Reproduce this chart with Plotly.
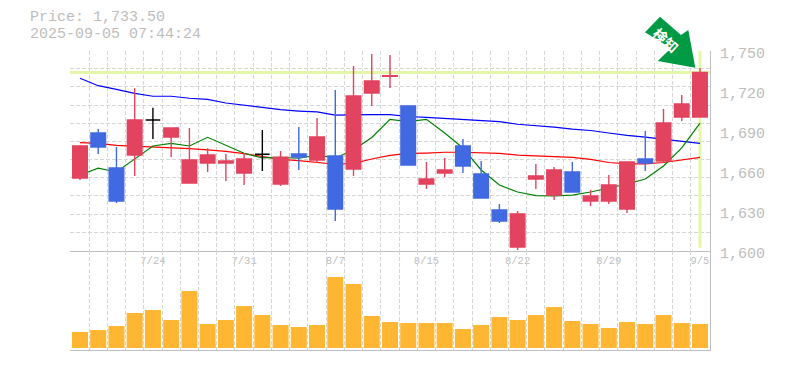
import plotly.graph_objects as go

W, H = 785, 370
LAST_PRICE = 1733.5
TITLE_LINES = ["Price: 1,733.50", "2025-09-05 07:44:24"]
PRICE_TICKS = [1600, 1630, 1660, 1690, 1720, 1750]
PRICE_LABELS = ["1,600", "1,630", "1,660", "1,690", "1,720", "1,750"]
DATE_POS = [4, 9, 14, 19, 24, 29, 34]
DATE_LABELS = ["7/24", "7/31", "8/7", "8/15", "8/22", "8/29", "9/5"]

opens = [1654.4, 1688.1, 1661.9, 1671.6, 1697.9, 1685.1, 1650.6, 1665.6, 1665.6, 1658.1, 1672.2, 1649.9,
         1672.4, 1667.9, 1670.9, 1661.1, 1718.1, 1730.6, 1708.4, 1649.9, 1658.1, 1678.4, 1657.4, 1630.4,
         1602.6, 1653.6, 1641.6, 1658.9, 1637.1, 1637.1, 1631.1, 1668.6, 1667.1, 1700.1, 1700.1]
highs = [1679.1, 1691.1, 1677.6, 1721.7, 1707.1, 1691.9, 1691.9, 1676.7, 1672.4, 1673.1, 1690.4, 1674.6,
         1692.6, 1699.4, 1720.4, 1738.4, 1747.4, 1746.6, 1708.4, 1666.4, 1669.4, 1683.6, 1667.1, 1634.9,
         1629.6, 1664.9, 1662.6, 1666.4, 1645.4, 1656.6, 1666.4, 1689.6, 1706.1, 1716.6, 1736.9]
lows = [1652.9, 1672.4, 1635.6, 1655.9, 1683.6, 1670.1, 1650.6, 1658.9, 1652.1, 1649.1, 1659.6, 1648.4,
        1660.4, 1665.6, 1622.1, 1655.9, 1708.4, 1721.9, 1664.1, 1646.1, 1655.1, 1658.1, 1639.4, 1620.6,
        1600.4, 1646.1, 1637.9, 1643.9, 1633.4, 1634.9, 1628.1, 1659.6, 1665.6, 1697.1, 1700.1]
closes = [1678.4, 1677.6, 1637.1, 1697.9, 1697.9, 1691.9, 1667.9, 1671.6, 1667.1, 1668.6, 1672.2, 1669.9,
          1670.1, 1685.1, 1631.1, 1715.9, 1727.1, 1731.1, 1664.1, 1653.6, 1660.4, 1663.4, 1639.4, 1622.1,
          1627.4, 1655.9, 1660.4, 1643.9, 1640.9, 1649.1, 1666.4, 1665.6, 1695.6, 1709.9, 1733.5]
ma_long = [1729.2, 1723.6, 1720.9, 1717.9, 1715.7, 1715.7, 1714.2, 1713.4, 1710.6, 1708.9, 1707.1, 1705.6,
           1704.6, 1703.9, 1701.6, 1701.9, 1701.9, 1701.9, 1700.5, 1699.9, 1699.2, 1698.1, 1697.4, 1696.6,
           1694.7, 1693.8, 1692.6, 1691.1, 1690.0, 1688.1, 1686.3, 1685.1, 1683.6, 1682.1, 1680.4]
ma_mid = [1680.9, 1680.4, 1678.9, 1678.4, 1677.9, 1677.4, 1676.4, 1675.4, 1674.4, 1672.6, 1670.4, 1668.4,
          1667.4, 1666.2, 1664.7, 1665.3, 1668.6, 1671.3, 1672.8, 1673.1, 1673.7, 1673.7, 1673.5, 1672.9,
          1671.6, 1670.9, 1670.1, 1669.9, 1668.3, 1666.0, 1664.9, 1664.9, 1666.0, 1667.9, 1669.9]
ma_short = [1656.6, 1661.7, 1658.9, 1668.6, 1678.4, 1680.4, 1678.4, 1684.9, 1679.1, 1672.9, 1669.4, 1669.9,
            1669.2, 1671.5, 1669.4, 1675.4, 1684.8, 1698.3, 1696.6, 1698.4, 1688.1, 1676.9, 1660.4, 1649.1,
            1643.9, 1641.1, 1640.9, 1641.6, 1643.9, 1646.9, 1649.9, 1653.6, 1663.4, 1676.9, 1695.6]
volumes = [16, 18, 22, 35, 38, 28, 57, 24, 28, 42, 33, 23, 21, 23, 71, 64, 32, 26,
           25, 25, 25, 19, 23, 31, 28, 33, 41, 27, 24, 20, 26, 24, 33, 25, 24]

idx = list(range(len(opens)))
XR = [-0.548, 34.55]
RED, BLUE, BLACK = "#E2435F", "#4169E1", "#000000"
GRID, AXIS, TXT = "#D6D6D6", "#BFBFBF", "#BDBDBD"
YELLOW, ARROW = "#E4F6A8", "#009944"
MONO = "Liberation Mono, monospace"

px = lambda v: v / W
py = lambda v: 1 - v / H

moving = [i for i in idx if opens[i] != closes[i]]
flat = [i for i in idx if opens[i] == closes[i]]
pick = lambda arr, sel: [arr[i] for i in sel]

fig = go.Figure()
fig.add_trace(go.Scatter(x=XR, y=[LAST_PRICE, LAST_PRICE], mode="lines", xaxis="x", yaxis="y",
                         line=dict(color=YELLOW, width=3), showlegend=False))
fig.add_trace(go.Scatter(x=[idx[-1], idx[-1]], y=[1602, 1750], mode="lines", xaxis="x", yaxis="y",
                         line=dict(color=YELLOW, width=3), showlegend=False))
for series, col in ((ma_long, "#0000FF"), (ma_mid, "#FF0000"), (ma_short, "#008000")):
    fig.add_trace(go.Scatter(x=idx, y=series, mode="lines", xaxis="x", yaxis="y",
                             line=dict(color=col, width=1.2), showlegend=False))

fig.add_trace(go.Candlestick(x=moving, open=pick(opens, moving), high=pick(highs, moving),
                             low=pick(lows, moving), close=pick(closes, moving), xaxis="x3", yaxis="y3",
                             increasing=dict(line=dict(color=RED, width=1.4), fillcolor=RED),
                             decreasing=dict(line=dict(color=BLUE, width=1.4), fillcolor=BLUE),
                             whiskerwidth=0, showlegend=False))
fig.add_trace(go.Candlestick(x=flat, open=pick(opens, flat), high=pick(highs, flat),
                             low=pick(lows, flat), close=pick(closes, flat), xaxis="x3", yaxis="y3",
                             increasing=dict(line=dict(color=BLACK, width=1.4), fillcolor=BLACK),
                             decreasing=dict(line=dict(color=BLACK, width=1.4), fillcolor=BLACK),
                             whiskerwidth=0, showlegend=False))
fig.add_trace(go.Bar(x=idx, y=volumes, xaxis="x2", yaxis="y2", marker=dict(color="#FFB733", line=dict(width=0)),
                     showlegend=False))

minor_x = dict(showgrid=True, gridcolor=GRID, griddash="4px,2px", gridwidth=1, tick0=-0.5, dtick=1, ticklen=0)
dom_x = [px(70), px(710)]

fig.update_layout(
    width=W, height=H, margin=dict(l=0, r=0, t=0, b=0, autoexpand=False), paper_bgcolor="white", plot_bgcolor="white",
    bargap=0.12, boxgap=0.2, boxgroupgap=0,
    xaxis=dict(domain=dom_x, range=XR, anchor="y", tickmode="array", tickvals=DATE_POS, ticktext=DATE_LABELS,
               automargin=False, showgrid=False, zeroline=False, ticks="", showline=True, linecolor=AXIS, linewidth=1,
               tickfont=dict(family=MONO, size=10.5, color=TXT), ticklabelstandoff=0, minor=minor_x),
    yaxis=dict(domain=[py(250.5), py(50.5)], range=[1600, 1750], anchor="x", side="right", automargin=False,
               tickmode="array", tickvals=PRICE_TICKS, ticktext=PRICE_LABELS, showgrid=False, zeroline=False,
               ticks="", showline=True, linecolor=AXIS, linewidth=1, ticklabelstandoff=6,
               tickfont=dict(family=MONO, size=15, color=TXT), ticklabelshift=2,
               minor=dict(showgrid=True, gridcolor=GRID, griddash="4px,2px", gridwidth=1, tick0=1600,
                          dtick=150 / 11, ticklen=0)),
    xaxis2=dict(domain=dom_x, range=XR, anchor="y2", showticklabels=False, showgrid=False, zeroline=False,
                automargin=False, ticks="", showline=True, linecolor=AXIS, linewidth=1, tick0=0, dtick=1, minor=minor_x),
    yaxis2=dict(domain=[py(350), py(250.5)], range=[-2, 97.5], anchor="x2", side="right", showticklabels=False,
                automargin=False, showgrid=False, zeroline=False, ticks="", showline=True, linecolor=AXIS, linewidth=1),
    xaxis3=dict(domain=dom_x, range=XR, overlaying="x", anchor="y3", visible=False, automargin=False,
                rangeslider=dict(visible=False)),
    yaxis3=dict(domain=[py(250.5), py(50.5)], range=[1600, 1750], overlaying="y", anchor="x3", visible=False,
                automargin=False),
    shapes=[dict(type="path", xref="paper", yref="paper", fillcolor=ARROW, line=dict(width=0),
                 path="M {} {} L {} {} L {} {} L {} {} L {} {} L {} {} L {} {} Z".format(
                     px(660), py(16.7), px(645), py(32.3), px(671), py(48.3), px(657.7), py(61),
                     px(695.3), py(67.7), px(688.3), py(30), px(681), py(35)))],
    annotations=[
        dict(xref="paper", yref="paper", x=px(29), y=py(17.3), text=TITLE_LINES[0], showarrow=False, xanchor="left",
             yanchor="middle", height=14, borderpad=0, font=dict(family=MONO, size=15, color=TXT)),
        dict(xref="paper", yref="paper", x=px(29), y=py(34), text=TITLE_LINES[1], showarrow=False, xanchor="left",
             yanchor="middle", height=14, borderpad=0, font=dict(family=MONO, size=15, color=TXT)),
        dict(xref="paper", yref="paper", x=px(666), y=py(40), text="<b>検知</b>", showarrow=False, textangle=42,
             xanchor="center", yanchor="middle", font=dict(family="Noto Sans CJK JP", size=14, color="white")),
    ],
)
fig.write_html("out.html", config=dict(displayModeBar=False), post_script="document.body.style.margin='0';")
